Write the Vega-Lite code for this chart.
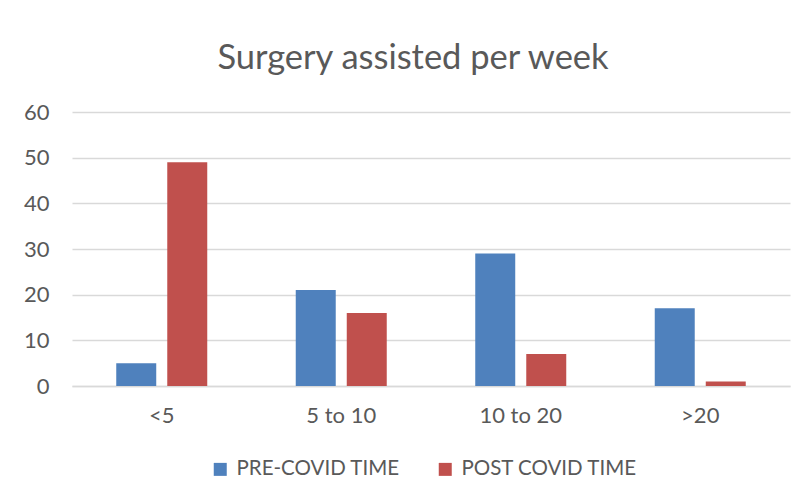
{
  "$schema": "https://vega.github.io/schema/vega-lite/v6.json",
  "width": 718,
  "height": 274,
  "autosize": {"type": "none"},
  "padding": {"left": 72, "top": 112, "right": 19, "bottom": 116},
  "background": "white",
  "title": {
    "text": "Surgery assisted per week",
    "font": "Lato",
    "fontSize": 34.5,
    "fontWeight": "normal",
    "color": "#595959",
    "anchor": "middle",
    "dx": -18,
    "offset": 25
  },
  "data": {
    "values": [
      {"category": "<5", "series": "PRE-COVID TIME", "value": 5},
      {"category": "<5", "series": "POST COVID TIME", "value": 49},
      {"category": "5 to 10", "series": "PRE-COVID TIME", "value": 21},
      {"category": "5 to 10", "series": "POST COVID TIME", "value": 16},
      {"category": "10 to 20", "series": "PRE-COVID TIME", "value": 29},
      {"category": "10 to 20", "series": "POST COVID TIME", "value": 7},
      {"category": ">20", "series": "PRE-COVID TIME", "value": 17},
      {"category": ">20", "series": "POST COVID TIME", "value": 1}
    ]
  },
  "mark": {"type": "bar"},
  "encoding": {
    "x": {
      "field": "category",
      "type": "nominal",
      "sort": ["<5", "5 to 10", "10 to 20", ">20"],
      "scale": {"paddingInner": 0.493, "paddingOuter": 0.2465},
      "axis": {
        "title": null,
        "labelAngle": 0,
        "ticks": false,
        "domain": true,
        "domainColor": "#D9D9D9",
        "domainWidth": 1.5,
        "labelPadding": 19,
        "labelFont": "Lato",
        "labelFontSize": 22,
        "labelColor": "#595959"
      }
    },
    "xOffset": {
      "field": "series",
      "type": "nominal",
      "sort": ["PRE-COVID TIME", "POST COVID TIME"],
      "scale": {"paddingInner": 0.216, "paddingOuter": 0}
    },
    "y": {
      "field": "value",
      "type": "quantitative",
      "scale": {"domain": [0, 60]},
      "axis": {
        "title": null,
        "values": [0, 10, 20, 30, 40, 50, 60],
        "labelOverlap": false,
        "ticks": false,
        "domain": false,
        "grid": true,
        "gridColor": "#D9D9D9",
        "gridWidth": 1.5,
        "labelPadding": 23,
        "labelFont": "Lato",
        "labelFontSize": 22,
        "labelColor": "#595959"
      }
    },
    "color": {
      "field": "series",
      "type": "nominal",
      "sort": ["PRE-COVID TIME", "POST COVID TIME"],
      "scale": {"domain": ["PRE-COVID TIME", "POST COVID TIME"], "range": ["#4F81BD", "#C0504D"]},
      "legend": {
        "title": null,
        "orient": "none",
        "legendX": 138,
        "legendY": 347,
        "direction": "horizontal",
        "symbolType": "square",
        "symbolSize": 169,
        "symbolStrokeWidth": 0,
        "labelFont": "Lato",
        "labelFontSize": 20.5,
        "labelLimit": 400,
        "labelColor": "#595959",
        "columnPadding": 35,
        "labelOffset": 6
      }
    }
  },
  "config": {
    "view": {"stroke": null}
  }
}
